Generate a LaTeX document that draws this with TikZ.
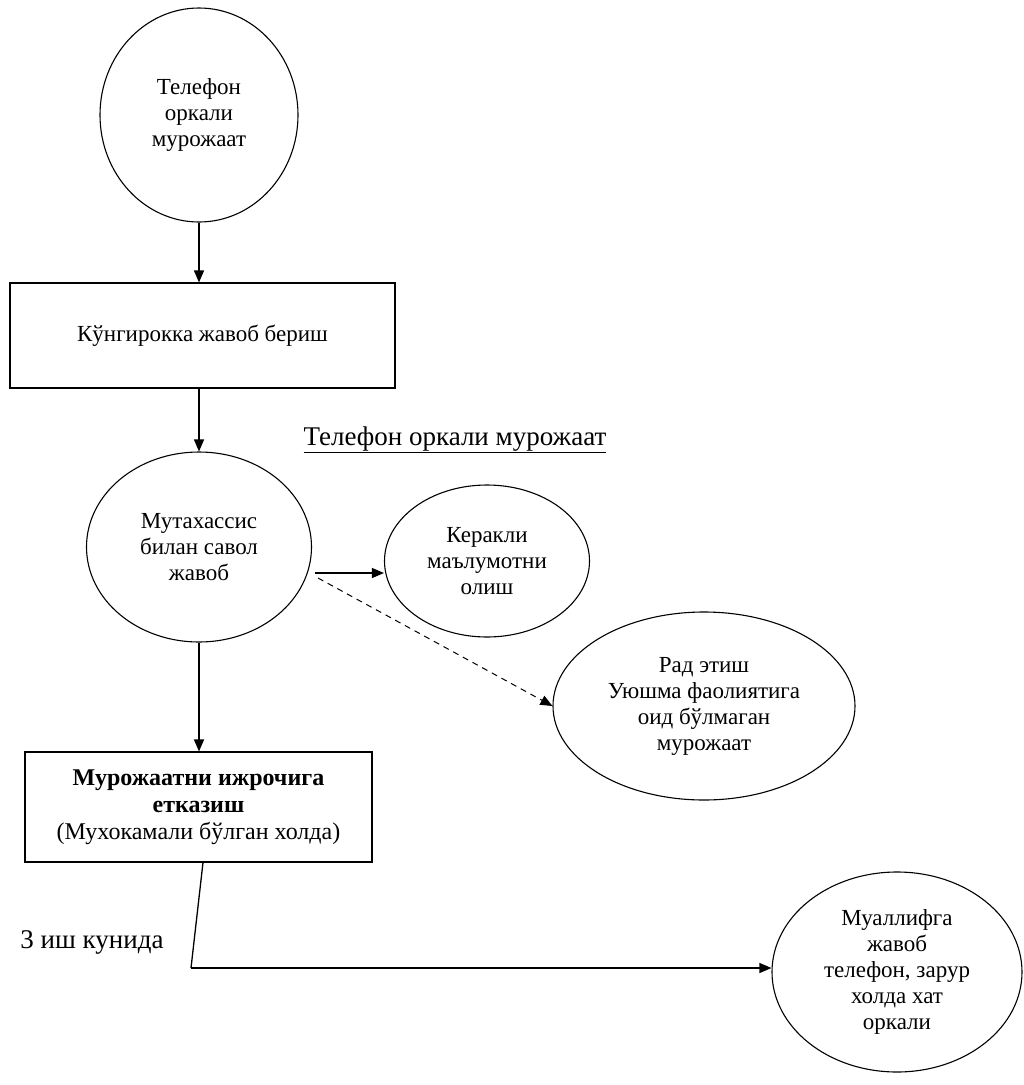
\documentclass[tikz,border=0pt]{standalone}
\usepackage{fontspec}
\setmainfont{Liberation Serif}
\usetikzlibrary{shapes.geometric,arrows.meta,calc}
\begin{document}
\begin{tikzpicture}[x=1pt,y=-1pt,
  every node/.style={font=\fontsize{23}{26}\selectfont, align=center},
  oval/.style={draw, ellipse, line width=1.1pt, inner sep=0pt},
  box/.style={draw, rectangle, line width=1.1pt, inner sep=0pt},
  arr/.style={line width=1.3pt, -{Triangle[length=12pt,width=10pt]}},
  dsh/.style={line width=1pt, dashed, dash pattern=on 6pt off 5pt, -{Triangle[length=12pt,width=10pt]}}]
\useasboundingbox (0,0) rectangle (1024,1085);
\node[oval, minimum width=198pt, minimum height=214pt] (c1) at (199,115) {Телефон\\оркали\\мурожаат};
\node[box, minimum width=385pt, minimum height=105pt] (b1) at (202.5,335.5) {Кўнгирокка жавоб бериш};
\node[font=\fontsize{27}{30}\selectfont] (title) at (455,440) {\underline{Телефон оркали мурожаат}};
\node[oval, minimum width=225pt, minimum height=190pt] (e2) at (199,547) {Мутахассис\\билан савол\\жавоб};
\node[oval, minimum width=205pt, minimum height=152pt] (e3) at (487,561) {Керакли\\маълумотни\\олиш};
\node[oval, minimum width=302pt, minimum height=188pt] (e4) at (704,706) {Рад этиш\\Уюшма фаолиятига\\оид бўлмаган\\мурожаат};
\node[box, minimum width=347pt, minimum height=110pt, font=\fontsize{24}{27}\selectfont] (b2) at (198.5,807) {\textbf{Мурожаатни ижрочига}\\\textbf{етказиш}\\(Мухокамали бўлган холда)};
\node[font=\fontsize{27}{30}\selectfont] (days) at (92,942) {3 иш кунида};
\node[oval, minimum width=250pt, minimum height=200pt] (e5) at (897,972) {Муаллифга\\жавоб\\телефон, зарур\\холда хат\\оркали};
\coordinate (s1) at (315,573);
\coordinate (s2) at (318,578);
\coordinate (bend) at (191,968);
\draw[arr] (c1.south) -- (c1.south |- b1.north);
\draw[arr] (b1.south -| c1.south) -- (e2.north -| c1.south);
\draw[arr] (s1) -- (s1 -| e3.west);
\draw[dsh] (s2) -- (e4.west);
\draw[arr] (e2.south) -- (e2.south |- b2.north);
\draw[line width=1.3pt] (b2.south) ++(4.5,0) -- (bend);
\draw[arr] (bend) -- (bend -| e5.west);
\end{tikzpicture}
\end{document}
